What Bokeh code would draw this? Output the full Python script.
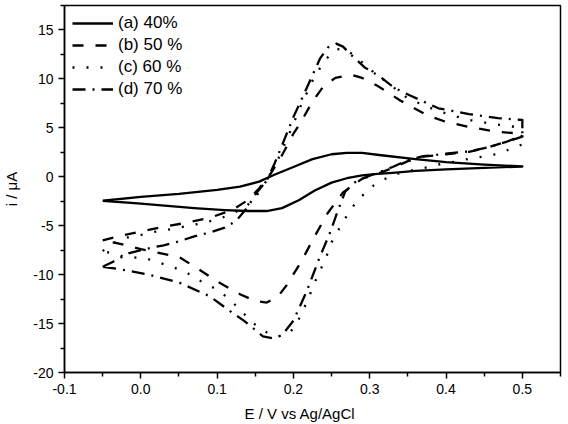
import math
from bokeh.plotting import figure
from bokeh.models import Range1d, FixedTicker, PrintfTickFormatter, Legend, LegendItem
from bokeh.embed import file_html
from bokeh.resources import INLINE

# Cyclic voltammograms: potential (V vs Ag/AgCl) and current (uA), each loop
# listed from the negative vertex along the anodic sweep and back.
e_40 = [-0.05, 0.0, 0.05, 0.1, 0.13, 0.155, 0.175, 0.2, 0.225, 0.25, 0.27, 0.29, 0.315, 0.36, 0.4, 0.45, 0.5,
        0.45, 0.4, 0.36, 0.33, 0.31, 0.29, 0.27, 0.25, 0.228, 0.207, 0.185, 0.165, 0.14, 0.11, 0.07, 0.0, -0.05]
i_40 = [-2.45, -2.05, -1.75, -1.35, -1.0, -0.5, 0.2, 1.0, 1.8, 2.3, 2.45, 2.45, 2.2, 1.8, 1.5, 1.25, 1.05,
        0.9, 0.75, 0.6, 0.4, 0.3, 0.15, -0.15, -0.6, -1.4, -2.4, -3.2, -3.5, -3.5, -3.4, -3.2, -2.75, -2.45]

e_50 = [-0.05, -0.03, 0.0, 0.03, 0.06, 0.09, 0.12, 0.14, 0.155, 0.17, 0.185, 0.2, 0.21, 0.225, 0.24, 0.255,
        0.275, 0.29, 0.31, 0.34, 0.375, 0.4, 0.43, 0.465, 0.5,
        0.5, 0.48, 0.455, 0.43, 0.4, 0.37, 0.35, 0.33, 0.31, 0.29, 0.265, 0.245, 0.227, 0.21, 0.191, 0.18,
        0.165, 0.15, 0.13, 0.1, 0.075, 0.05, 0.025, 0.0, -0.03, -0.05]
i_50 = [-6.5, -6.1, -5.6, -5.1, -4.7, -4.2, -3.4, -2.4, -1.2, 0.3, 2.2, 4.4, 5.6, 7.7, 9.3, 10.1,
        10.45, 10.1, 9.3, 7.8, 6.3, 5.6, 5.1, 4.6, 4.4,
        4.1, 3.6, 3.0, 2.55, 2.3, 2.05, 1.6, 0.9, 0.3, -0.2, -1.6, -3.7, -6.2, -8.7, -11.1, -12.2,
        -12.85, -12.7, -12.0, -10.7, -9.4, -8.2, -7.8, -7.4, -6.8, -6.5]

e_60 = [-0.05, -0.037, -0.017, 0.0, 0.02, 0.04, 0.06, 0.08, 0.1, 0.12, 0.14, 0.155, 0.168, 0.18, 0.195, 0.21,
        0.225, 0.24, 0.255, 0.265, 0.28, 0.3, 0.325, 0.35, 0.39, 0.43, 0.47, 0.5,
        0.5, 0.489, 0.471, 0.453, 0.434, 0.416, 0.396, 0.378, 0.358, 0.33, 0.305, 0.285, 0.272, 0.26, 0.25,
        0.243, 0.235, 0.226, 0.22, 0.211, 0.202, 0.19, 0.178, 0.165, 0.148, 0.13, 0.115, 0.097, 0.077,
        0.06, 0.041, 0.025, 0.005, -0.021, -0.035, -0.05]
i_60 = [-7.6, -6.8, -6.2, -5.95, -5.6, -5.35, -5.05, -4.75, -4.35, -3.8, -2.9, -1.6, 0.0, 1.8, 4.5, 7.3,
        9.8, 11.8, 13.0, 13.1, 12.4, 11.0, 9.5, 8.0, 6.7, 5.8, 5.3, 5.0,
        3.3, 3.0, 2.4, 2.1, 1.9, 1.6, 1.35, 1.0, 0.7, 0.2, -0.9, -2.3, -3.7, -5.3, -6.7,
        -8.2, -9.6, -11.1, -12.4, -13.9, -15.4, -16.2, -16.3, -15.9, -15.0, -13.6, -12.4, -11.4, -10.6,
        -9.8, -9.2, -8.8, -8.3, -8.2, -7.85, -7.6]

e_70 = [-0.05, -0.037, -0.015, 0.005, 0.03, 0.05, 0.07, 0.09, 0.11, 0.125, 0.14, 0.152, 0.165, 0.175, 0.185,
        0.2, 0.217, 0.235, 0.245, 0.256, 0.265, 0.275, 0.293, 0.314, 0.332, 0.353, 0.39, 0.43, 0.468, 0.5,
        0.5, 0.48, 0.455, 0.43, 0.4, 0.37, 0.35, 0.33, 0.31, 0.293, 0.28, 0.268, 0.258, 0.248, 0.233, 0.218,
        0.2, 0.185, 0.172, 0.16, 0.135, 0.12, 0.09, 0.05, 0.01, -0.027, -0.05]
i_70 = [-9.2, -8.7, -7.8, -7.4, -7.0, -6.6, -6.1, -5.7, -5.2, -4.5, -3.1, -1.6, -0.4, 1.3, 3.2,
        6.1, 9.0, 12.1, 13.2, 13.6, 13.3, 12.5, 11.2, 10.2, 9.1, 8.3, 7.0, 6.4, 6.0, 5.8,
        4.2, 3.6, 3.0, 2.6, 2.35, 2.1, 1.7, 1.0, 0.4, -0.1, -0.6, -1.5, -3.5, -5.7, -8.5, -11.6,
        -14.7, -16.2, -16.5, -16.3, -14.7, -13.9, -12.2, -10.8, -10.0, -9.45, -9.2]

series_labels = ["(a) 40%", "(b) 50 %", "(c) 60 %", "(d) 70 %"]

x_ticks = [-0.1, 0.0, 0.1, 0.2, 0.3, 0.4, 0.5]
x_minor = [-0.05, 0.05, 0.15, 0.25, 0.35, 0.45, 0.55]
y_ticks = [-20, -15, -10, -5, 0, 5, 10, 15]
y_minor = [-17.5, -12.5, -7.5, -2.5, 2.5, 7.5, 12.5, 17.5]

FONT = "Liberation Sans"

p = figure(width=568, height=424, output_backend="svg", toolbar_location=None,
           x_range=Range1d(-0.1, 0.55), y_range=Range1d(-20, 17.5),
           min_border_left=62, min_border_right=8, min_border_top=5, min_border_bottom=52)
p.grid.visible = False
p.background_fill_color = "white"
p.border_fill_color = "white"
p.outline_line_color = "black"
p.outline_line_width = 1.5

for ax in (p.xaxis[0], p.yaxis[0]):
    ax.axis_line_width = 1.5
    ax.major_tick_line_width = 1.5
    ax.minor_tick_line_width = 1.5
    ax.major_tick_in = 0
    ax.major_tick_out = 6
    ax.minor_tick_in = 0
    ax.minor_tick_out = 4
    ax.major_label_text_font = FONT
    ax.major_label_text_font_size = "14px"
    ax.major_label_text_color = "black"
    ax.major_label_standoff = 5
    ax.axis_label_text_font = FONT
    ax.axis_label_text_font_size = "15px"
    ax.axis_label_text_font_style = "normal"
    ax.axis_label_text_color = "black"

p.xaxis.ticker = FixedTicker(ticks=x_ticks, minor_ticks=x_minor)
p.yaxis.ticker = FixedTicker(ticks=y_ticks, minor_ticks=y_minor)
p.xaxis.formatter = PrintfTickFormatter(format="%.1f")
p.yaxis.formatter = PrintfTickFormatter(format="%d")
# trailing no-break spaces nudge the centred title slightly left
p.xaxis.axis_label = "E / V vs Ag/AgCl" + "\u00a0" * 6
p.yaxis.axis_label = "i / \u03bcA"
p.xaxis.axis_label_standoff = 8
p.yaxis.axis_label_standoff = 10

styles = ["solid", "11 12", "2 12", "13 7 2 7"]
curves = [(e_40, i_40), (e_50, i_50), (e_60, i_60), (e_70, i_70)]
items = []
for (xs, ys), dash, lab in zip(curves, styles, series_labels):
    r = p.line(xs, ys, line_color="black", line_width=2.3, line_dash=dash, line_join="round")
    items.append(LegendItem(label=lab, renderers=[r]))

legend = Legend(items=items, location=(8, 273))
legend.border_line_color = None
legend.background_fill_alpha = 0
legend.glyph_width = 41
legend.glyph_height = 20
legend.label_height = 20
legend.spacing = 2
legend.padding = 4
legend.margin = 0
legend.label_standoff = 5
legend.label_text_font = FONT
legend.label_text_font_size = "17px"
legend.label_text_color = "black"
p.add_layout(legend)

open("out.html", "w").write(file_html(p, INLINE))
